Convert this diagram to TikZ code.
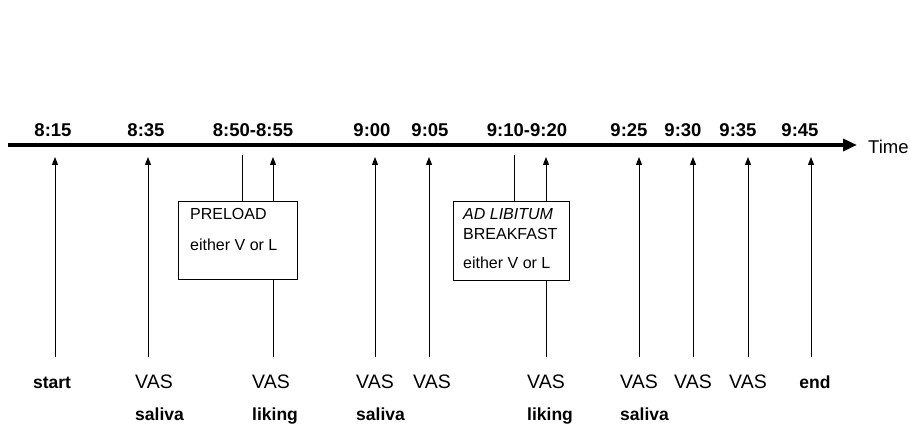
\documentclass[tikz,border=0pt]{standalone}
\usepackage{fontspec}
\setmainfont{Liberation Sans}
\usetikzlibrary{arrows.meta}

\begin{document}
\begin{tikzpicture}[
  x=1pt, y=-1pt,
  every node/.style={inner sep=0pt, text=black},
  timelabel/.style={
    font=\fontsize{18.5}{22}\selectfont\bfseries,
    anchor=base,
  },
  vaslabel/.style={
    font=\fontsize{19.5}{22}\selectfont,
    anchor=base,
  },
  notelabel/.style={
    font=\fontsize{17.5}{20}\selectfont\bfseries,
    anchor=base west,
  },
  mealbox/.style={
    draw=black,
    line width=1pt,
    anchor=north west,
  },
  boxtext/.style={
    font=\fontsize{16}{20}\selectfont,
    align=left,
    anchor=north west,
  },
  axisline/.style={
    -{Triangle[length=14pt, width=12pt]},
    line width=3.5pt,
  },
  event/.style={
    -{Triangle[length=8pt, width=6pt]},
    line width=1pt,
  },
  plain/.style={
    line width=1pt,
  },
]
  \useasboundingbox (0,0) rectangle (911,425);

  % time axis
  \coordinate (axisstart) at (8,145);
  \coordinate (axisend) at (857,145);
  \draw[axisline] (axisstart) -- (axisend);
  \node[vaslabel, font=\fontsize{18.5}{22}\selectfont, anchor=west] (timetxt) at (868,147) {Time};

  % clock times above the axis
  \node[timelabel] (t815) at (53,137) {8:15};
  \node[timelabel] (t835) at (146,137) {8:35};
  \node[timelabel] (t850) at (253,137) {8:50-8:55};
  \node[timelabel] (t900) at (372,137) {9:00};
  \node[timelabel] (t905) at (430,137) {9:05};
  \node[timelabel] (t910) at (527,137) {9:10-9:20};
  \node[timelabel] (t925) at (629,137) {9:25};
  \node[timelabel] (t930) at (683,137) {9:30};
  \node[timelabel] (t935) at (738,137) {9:35};
  \node[timelabel] (t945) at (800,137) {9:45};

  % simple events
  \foreach \ev/\x in {start/55, vasa/148, vasd/375, vase/429, vasg/639, vash/693, vasi/748, finish/811} {
    \coordinate (\ev top) at (\x,157);
    \coordinate (\ev bot) at (\x,357);
    \draw[event] (\ev bot) -- (\ev top);
  }

  % preload
  \node[mealbox, minimum width=119pt, minimum height=78pt] (preload) at (178,201) {};
  \node[boxtext] (preloadtxt) at (190,208.5) {PRELOAD\\[11pt]either V or L};
  \coordinate (prestart) at (242,155);
  \coordinate (preend) at (273,157);
  \coordinate (preliking) at (273,357);
  \draw[plain] (preload.north -| prestart) -- (prestart);
  \draw[event] (preload.north -| preend) -- (preend);
  \draw[plain] (preliking) -- (preload.south -| preliking);

  % breakfast
  \node[mealbox, minimum width=116pt, minimum height=79pt] (breakfast) at (453,201) {};
  \node[boxtext] (breakfasttxt) at (463,208.5) {\itshape AD LIBITUM\\BREAKFAST\\[9pt]either V or L};
  \coordinate (bfstart) at (514,155);
  \coordinate (bfend) at (546,157);
  \coordinate (bfliking) at (546,357);
  \draw[plain] (breakfast.north -| bfstart) -- (bfstart);
  \draw[event] (breakfast.north -| bfend) -- (bfend);
  \draw[plain] (bfliking) -- (breakfast.south -| bfliking);

  % measurements below
  \node[notelabel, anchor=base] (lstart) at (52,388) {start};
  \node[vaslabel] (l835) at (154,388) {VAS};
  \node[notelabel] (s835) at (l835.base west) [yshift=-32pt] {saliva};
  \node[vaslabel] (l855) at (271,388) {VAS};
  \node[notelabel] (k855) at (l855.base west) [yshift=-32pt] {liking};
  \node[vaslabel] (l900) at (375,388) {VAS};
  \node[notelabel] (s900) at (l900.base west) [yshift=-32pt] {saliva};
  \node[vaslabel] (l905) at (432,388) {VAS};
  \node[vaslabel] (l920) at (546,388) {VAS};
  \node[notelabel] (k920) at (l920.base west) [yshift=-32pt] {liking};
  \node[vaslabel] (l925) at (639,388) {VAS};
  \node[notelabel] (s925) at (l925.base west) [yshift=-32pt] {saliva};
  \node[vaslabel] (l930) at (693,388) {VAS};
  \node[vaslabel] (l935) at (748,388) {VAS};
  \node[notelabel, anchor=base] (lend) at (815,388) {end};
\end{tikzpicture}
\end{document}
